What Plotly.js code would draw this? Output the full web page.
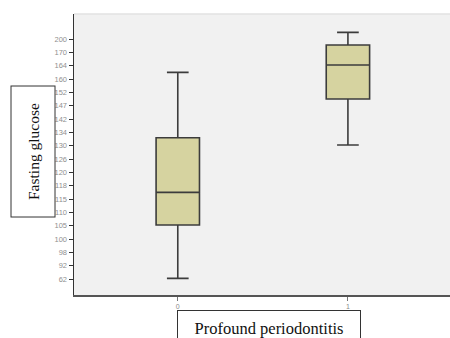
<!DOCTYPE html>
<html>
<head>
<meta charset="utf-8">
<script src="https://cdn.plot.ly/plotly-3.0.1.min.js"></script>
<style>
  html, body { margin: 0; padding: 0; background: #ffffff; }
  #chart { width: 450px; height: 338px; }
</style>
</head>
<body>
<div id="chart"></div>
<script>
// Fasting glucose levels drawn on the ordinal scale (rank positions of the observed values)
const glucoseLabels = ['62', '92', '98', '100', '105', '110', '115', '118', '120', '126',
                       '130', '134', '142', '147', '152', '160', '164', '170', '200'];
const groups = ['0', '1'];
const lowerWhisker = [0.05, 10.05];
const q1Values = [4.05, 13.5];
const medianValues = [6.5, 16.05];
const q3Values = [10.6, 17.55];
const upperWhisker = [15.5, 18.5];

const tickPositions = glucoseLabels.map((_, i) => i);

const trace = {
  type: 'box',
  x: groups,
  lowerfence: lowerWhisker,
  q1: q1Values,
  median: medianValues,
  q3: q3Values,
  upperfence: upperWhisker,
  width: 0.255,
  whiskerwidth: 0.5,
  fillcolor: '#d6d3a0',
  line: { color: '#3c3c3c', width: 1.6 },
  boxpoints: false,
  hoverinfo: 'skip',
  showlegend: false
};

const layout = {
  width: 450,
  height: 338,
  margin: { l: 74, r: 0, t: 14, b: 43 },
  paper_bgcolor: '#ffffff',
  plot_bgcolor: '#f1f1f1',
  showlegend: false,
  xaxis: {
    type: 'category',
    range: [-0.61, 1.6],
    showgrid: false,
    zeroline: false,
    showline: true,
    linecolor: '#555555',
    linewidth: 2,
    ticks: 'outside',
    ticklen: 4,
    tickwidth: 1,
    tickcolor: '#777777',
    tickfont: { family: 'Liberation Sans, Arial, sans-serif', size: 7, color: '#8a8a8a' }
  },
  yaxis: {
    range: [-1.2, 19.88],
    tickmode: 'array',
    tickvals: tickPositions,
    ticktext: glucoseLabels,
    showgrid: false,
    zeroline: false,
    showline: true,
    linecolor: '#333333',
    linewidth: 1.5,
    ticks: 'outside',
    ticklen: 4,
    tickwidth: 1,
    tickcolor: '#333333',
    tickfont: { family: 'Liberation Sans, Arial, sans-serif', size: 7.5, color: '#8f8f8f' }
  },
  shapes: [
    { type: 'line', xref: 'paper', yref: 'paper', x0: 0, x1: 1, y0: 1, y1: 1,
      line: { color: '#e2e2e2', width: 1.5 } }
  ],
  annotations: [
    {
      text: 'Fasting glucose',
      xref: 'paper', yref: 'paper',
      x: -0.1077, y: 0.5089,
      xanchor: 'center', yanchor: 'middle',
      textangle: -90,
      width: 130, height: 43,
      showarrow: false,
      bordercolor: '#333333', borderwidth: 1, borderpad: 0,
      bgcolor: '#ffffff',
      font: { family: 'Liberation Serif, Times New Roman, serif', size: 15.5, color: '#111111' }
    },
    {
      text: 'Profound periodontitis',
      xref: 'paper', yref: 'paper',
      x: 0.5186, y: -0.0534,
      xanchor: 'center', yanchor: 'top',
      width: 182, height: 34,
      showarrow: false,
      bordercolor: '#333333', borderwidth: 1, borderpad: 0,
      bgcolor: '#ffffff',
      font: { family: 'Liberation Serif, Times New Roman, serif', size: 16.5, color: '#111111' }
    }
  ]
};

Plotly.newPlot('chart', [trace], layout, { displayModeBar: false, staticPlot: true });
</script>
</body>
</html>
